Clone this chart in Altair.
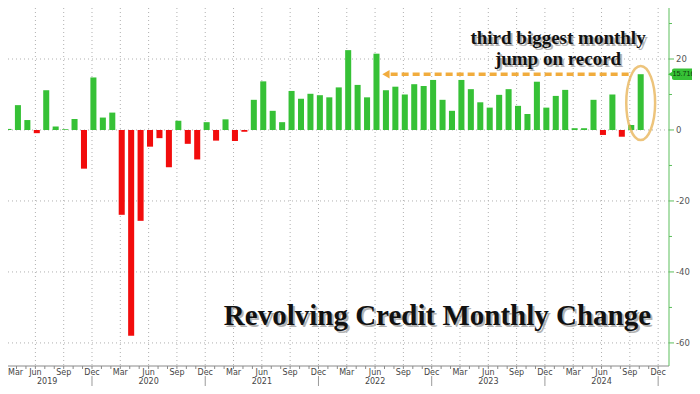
import altair as alt
import pandas as pd

# ---------------- data ----------------
months = [str(p) for p in pd.period_range("2019-02", "2024-10", freq="M")]
values = [
    # 2019 Feb..Dec
    2.3, 0.3, 7.0, 2.8, -0.9, 11.2, 1.0, 0.2, 3.1, -10.9, 14.8,
    # 2020
    3.5, 4.9, -23.9, -58.0, -25.6, -4.7, -2.3, -10.5, 2.6, -3.9, -8.3, 2.2,
    # 2021
    -3.0, 3.0, -3.1, -0.5, 8.5, 13.7, 5.4, 2.2, 11.0, 8.8, 10.2, 9.8,
    # 2022
    9.2, 12.0, 22.5, 12.7, 9.2, 21.5, 11.2, 12.2, 10.0, 12.9, 12.4, 14.1,
    # 2023
    8.5, 5.4, 14.1, 11.5, 7.8, 6.3, 9.9, 11.5, 6.8, 4.5, 13.6, 6.3,
    # 2024 Jan..Oct
    9.6, 11.3, 0.5, 0.5, 8.5, -1.4, 10.0, -1.9, 1.4, 15.716,
]
month_names = ["Jan", "Feb", "Mar", "Apr", "May", "Jun",
               "Jul", "Aug", "Sep", "Oct", "Nov", "Dec"]
years = ["2019", "2020", "2021", "2022", "2023", "2024"]
year_label_pos = [6.1, 16.85, 28.85, 40.85, 52.85, 64.85]
year_sep_pos = [10.85, 22.85, 34.85, 46.85, 58.85, 70.85]
y_major = [-60, -40, -20, 0, 20]
y_minor = [-50, -30, -10, 10, 30]
last_value = 15.716
last_label = "15.716"
annot_lines = ["third biggest monthly", "jump on record"]
title_text = "Revolving Credit Monthly Change"

# ---------------- styling ----------------
GREEN = "#36c136"
RED = "#f20c0c"
AXIS_GREEN = "#5cbf5c"
ORANGE = "#f0a833"
GRID = "#b0b0b0"
W, H = 661, 358

xs = alt.Scale(domain=[1.948, 72.0], nice=False, zero=False)
ys = alt.Scale(domain=[-66.5, 34.37], nice=False, zero=False)

df = pd.DataFrame({"month": months, "value": values})
df["idx"] = [(int(m[:4]) - 2019) * 12 + int(m[5:]) - 1 for m in months]
df["x0"] = df["idx"] - 0.32
df["x1"] = df["idx"] + 0.32
df["sign"] = ["pos" if v >= 0 else "neg" for v in values]

label_idx = list(range(2, 72, 3))
month_labels = pd.DataFrame({
    "p": [i - 0.15 for i in label_idx],
    "lab": [month_names[i % 12] for i in label_idx],
})
ymaj = pd.DataFrame({"v": y_major, "lab": [str(v) for v in y_major]})

one = pd.DataFrame({"a": [0]})


def XD(v):
    return alt.XDatum(datum=v, type="quantitative", scale=xs, axis=None)


def YD(v):
    return alt.YDatum(datum=v, type="quantitative", scale=ys, axis=None)


# ----- grid / axes drawn as layers -----
vgrid = alt.Chart(month_labels).mark_rule(color=GRID, strokeDash=[1, 3], strokeWidth=1).encode(
    x=alt.X("p:Q", scale=xs, axis=None), y=alt.value(0), y2=alt.value(H))
hgrid = alt.Chart(ymaj).mark_rule(color=GRID, strokeDash=[1, 3], strokeWidth=1).encode(
    y=alt.Y("v:Q", scale=ys, axis=None), x=alt.value(0), x2=alt.value(W))
x_domain = alt.Chart(one).mark_rule(color="#8a8a8a", strokeWidth=1).encode(
    x=alt.value(0), x2=alt.value(W), y=alt.value(H))
y_domain = alt.Chart(one).mark_rule(color=AXIS_GREEN, strokeWidth=1).encode(
    x=alt.value(W), y=alt.value(0), y2=alt.value(H))
major_y = alt.Chart(ymaj).mark_rule(color=AXIS_GREEN, strokeWidth=1).encode(
    y=alt.Y("v:Q", scale=ys, axis=None), x=alt.value(W), x2=alt.value(W + 5))
minor_y = alt.Chart(pd.DataFrame({"v": y_minor})).mark_rule(
    color=AXIS_GREEN, strokeWidth=1).encode(
    y=alt.Y("v:Q", scale=ys, axis=None), x=alt.value(W), x2=alt.value(W + 3))
y_labels = alt.Chart(ymaj).mark_text(
    font="DejaVu Sans", fontSize=8.5, color="#555555", align="left", baseline="middle").encode(
    y=alt.Y("v:Q", scale=ys, axis=None), x=alt.value(W + 7), text="lab:N")

bars = alt.Chart(df).mark_bar(clip=True).encode(
    x=alt.X("x0:Q", scale=xs, axis=None),
    x2="x1:Q",
    y=alt.Y("value:Q", scale=ys, axis=None),
    y2=alt.Y2Datum(datum=0),
    color=alt.Color("sign:N", scale=alt.Scale(domain=["pos", "neg"], range=[GREEN, RED]),
                    legend=None),
)

# first month label sits on the left edge: keep it whole by left-aligning it there
month_text = alt.Chart(month_labels.iloc[1:]).mark_text(
    font="DejaVu Sans", fontSize=8, color="#444444", baseline="middle").encode(
    x=alt.X("p:Q", scale=xs, axis=None), y=alt.value(H + 7), text="lab:N")
first_month_text = alt.Chart(month_labels.iloc[:1]).mark_text(
    font="DejaVu Sans", fontSize=8, color="#444444", baseline="middle", align="left").encode(
    x=alt.value(0), y=alt.value(H + 7), text="lab:N")

month_ticks = alt.Chart(pd.DataFrame({"t": [i - 0.15 for i in range(2, 72)]})).mark_rule(
    color="#8a8a8a", strokeWidth=1).encode(
    x=alt.X("t:Q", scale=xs, axis=None),
    y=alt.value(H), y2=alt.value(H + 3))

year_text = alt.Chart(pd.DataFrame({"yr": years, "p": year_label_pos})).mark_text(
    font="DejaVu Sans", fontSize=8, color="#444444", baseline="middle").encode(
    x=alt.X("p:Q", scale=xs, axis=None), y=alt.value(H + 15.5), text="yr:N")

year_sep = alt.Chart(pd.DataFrame({"p": year_sep_pos})).mark_rule(
    color="#9a9a9a", strokeWidth=1).encode(
    x=alt.X("p:Q", scale=xs, axis=None), y=alt.value(H + 10), y2=alt.value(H + 20))

# dashed arrow
arrow_body = alt.Chart(one).mark_rule(
    color=ORANGE, strokeWidth=3.5, strokeDash=[7, 4], opacity=0.95).encode(
    x=XD(42.5), x2=alt.X2Datum(datum=68.1), y=YD(last_value))
arrow_head = alt.Chart(one).mark_point(
    shape="triangle-left", filled=True, color=ORANGE, size=70, opacity=0.95).encode(
    x=XD(42.0), y=YD(last_value))

ellipse_path = ("M 0 -1 C 0.2154 -1 0.39 -0.5523 0.39 0 C 0.39 0.5523 0.2154 1 0 1 "
                "C -0.2154 1 -0.39 0.5523 -0.39 0 C -0.39 -0.5523 -0.2154 -1 0 -1 Z")
ellipse = alt.Chart(one).mark_point(
    shape=ellipse_path, filled=False, color="#e6ac45", strokeWidth=2.5, size=5476).encode(
    x=XD(69.0), y=YD(7.6))

# last value tag
tag_box = alt.Chart(one).mark_rect(color=GREEN, cornerRadius=2).encode(
    x=alt.value(W + 3), x2=alt.value(W + 45),
    y=YD(last_value + 1.6), y2=alt.Y2Datum(datum=last_value - 1.6))
tag_tip = alt.Chart(one).mark_point(
    shape="triangle-left", filled=True, color=GREEN, size=45, opacity=1).encode(
    x=alt.value(W + 2), y=YD(last_value))
tag_text = alt.Chart(one).mark_text(
    text=last_label, font="Liberation Sans", fontSize=7.2, color="#0c3a0c",
    align="left", baseline="middle").encode(
    x=alt.value(W + 3.5), y=YD(last_value))


def serif_text(txt, x, y, size):
    shadow = alt.Chart(one).mark_text(
        text=txt, font="Liberation Serif", fontWeight="bold", fontSize=size,
        color="#777777", opacity=0.55, align="center", baseline="alphabetic",
        dx=2, dy=2).encode(x=XD(x), y=YD(y))
    main = alt.Chart(one).mark_text(
        text=txt, font="Liberation Serif", fontWeight="bold", fontSize=size,
        color="#111111", align="center", baseline="alphabetic").encode(
        x=XD(x), y=YD(y))
    return [shadow, main]


layers = [vgrid, hgrid, bars, x_domain, y_domain, major_y, minor_y, y_labels,
          month_text, first_month_text, month_ticks, year_text, year_sep,
          arrow_body, arrow_head, ellipse, tag_box, tag_tip, tag_text]
layers += serif_text(annot_lines[0], 60.24, 24.2, 19)
layers += serif_text(annot_lines[1], 60.24, 18.4, 19)
layers += serif_text(title_text, 47.46, -54.9, 29)

chart = alt.layer(*layers).properties(
    width=W, height=H,
    autosize="none",
    padding={"left": 0, "top": 0, "right": 23, "bottom": 20},
    background="white",
).configure_view(stroke=None)

chart.save("out.html", embed_options={"renderer": "svg", "actions": False})
